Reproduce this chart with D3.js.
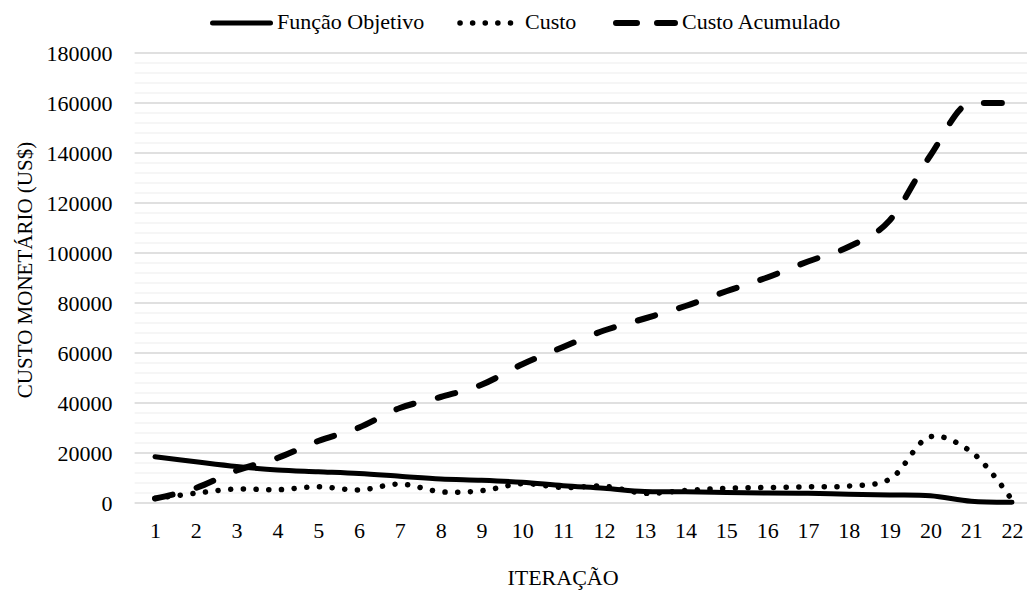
<!DOCTYPE html>
<html>
<head>
<meta charset="utf-8">
<script src="https://cdn.jsdelivr.net/npm/d3@7"></script>
<style>
  body { margin: 0; background: #fff; }
  text { font-family: "Liberation Serif", "Times New Roman", serif; fill: #000; }
</style>
</head>
<body>
<svg id="svg"></svg>
<script>
// data
const iteracoes = d3.range(1, 23);
const funcaoObjetivo = [18500, 16500, 14600, 13200, 12500, 11800, 10700, 9600, 9100, 8300, 6900, 5900,
    4600, 4500, 4200, 4000, 3900, 3500, 3200, 2900, 700, 300];
const custo = [1800, 3900, 5600, 5300, 6500, 5200, 7600, 4500, 4900, 7700, 6200, 6700,
    3900, 5000, 5900, 6200, 6500, 6800, 9500, 26500, 20500, 1200];
const custoAcumulado = [1800, 6000, 13000, 18000, 24800, 30200, 38000, 42400, 47300, 55500, 62400, 69000,
    73800, 78800, 84700, 90200, 96600, 102500, 113000, 139000, 160000, 160000];
const yTicks = d3.range(0, 180001, 20000);
const yMinor = d3.range(0, 180001, 4000);

const width = 1027;
const height = 590;
let svg = d3.select("#svg").attr("width", width).attr("height", height);

const margin = { top: 53, left: 134.6, bottom: 87 };
const plotWidth = 897.8;
const plotHeight = height - margin.top - margin.bottom;

let chart = svg.append("g")
    .attr("transform", "translate(" + margin.left + "," + margin.top + ")");

let xScale = d3.scalePoint()
    .domain(iteracoes)
    .range([0, plotWidth])
    .padding(0.5);

let yScale = d3.scaleLinear()
    .domain([0, 180000])
    .range([plotHeight, 0]);

// minor gridlines
chart.selectAll(".minor")
    .data(yMinor.filter(v => v % 20000 !== 0))
    .enter().append("line")
    .attr("x1", 0).attr("x2", plotWidth)
    .attr("y1", d => yScale(d)).attr("y2", d => yScale(d))
    .attr("stroke", "#ededed")
    .attr("stroke-width", 1.2);

// major gridlines
chart.selectAll(".major")
    .data(yTicks)
    .enter().append("line")
    .attr("x1", 0).attr("x2", plotWidth)
    .attr("y1", d => yScale(d)).attr("y2", d => yScale(d))
    .attr("stroke", "#d6d6d6")
    .attr("stroke-width", 1.5);

// y axis labels
let yAxis = chart.append("g")
    .call(d3.axisLeft(yScale).tickValues(yTicks).tickSize(0).tickPadding(22).tickFormat(d3.format("d")));
yAxis.select(".domain").remove();
yAxis.selectAll("text")
    .style("font-size", "22px")
    .style("font-family", "Liberation Serif");

// x axis labels
let xAxis = chart.append("g")
    .attr("transform", "translate(0," + plotHeight + ")")
    .call(d3.axisBottom(xScale).tickSize(0).tickPadding(19));
xAxis.select(".domain").remove();
xAxis.selectAll("text")
    .style("font-size", "22px")
    .style("font-family", "Liberation Serif");

const series = [
    { name: "Função Objetivo", values: funcaoObjetivo, dash: null, width: 5, curve: d3.curveCatmullRom.alpha(0.5) },
    { name: "Custo", values: custo, dash: "0.1 12.6", width: 5.5, curve: d3.curveCatmullRom.alpha(0.5) },
    { name: "Custo Acumulado", values: custoAcumulado, dash: "18 25", width: 6, curve: d3.curveMonotoneX }
];

series.forEach(s => {
    const line = d3.line()
        .x((d, i) => xScale(iteracoes[i]))
        .y(d => yScale(d))
        .curve(s.curve);
    chart.append("path")
        .datum(s.values)
        .attr("d", line)
        .attr("fill", "none")
        .attr("stroke", "#000")
        .attr("stroke-width", s.width)
        .attr("stroke-linecap", "round")
        .attr("stroke-dasharray", s.dash);
});

// axis titles
svg.append("text")
    .attr("x", 563)
    .attr("y", 585)
    .attr("text-anchor", "middle")
    .style("font-size", "22px")
    .text("ITERAÇÃO");

svg.append("text")
    .attr("transform", "translate(32,270) rotate(-90)")
    .attr("text-anchor", "middle")
    .style("font-size", "21px")
    .text("CUSTO MONETÁRIO (US$)");

// legend
const legendLayout = [
    { x1: 212.5, x2: 270.5, tx: 277, dash: null },
    { x1: 460, x2: 523, tx: 525, dash: "0.1 12.5" },
    { x1: 616, x2: 675, tx: 682, dash: "21 20" }
];
const legend = svg.append("g");
series.forEach((s, i) => {
    const l = legendLayout[i];
    legend.append("line")
        .attr("x1", l.x1).attr("x2", l.x2)
        .attr("y1", 23).attr("y2", 23)
        .attr("stroke", "#000")
        .attr("stroke-width", s.width)
        .attr("stroke-linecap", "round")
        .attr("stroke-dasharray", l.dash);
    legend.append("text")
        .attr("x", l.tx)
        .attr("y", 29)
        .style("font-size", "22px")
        .text(s.name);
});
</script>
</body>
</html>
